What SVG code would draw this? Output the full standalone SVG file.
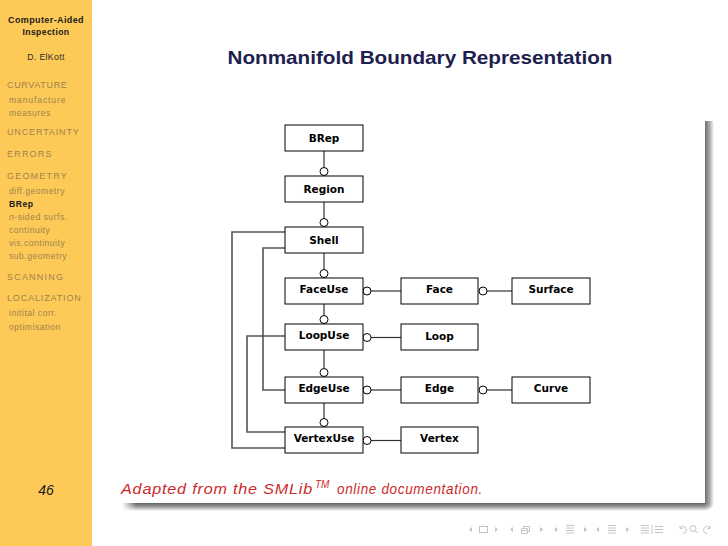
<svg xmlns="http://www.w3.org/2000/svg" width="728" height="546" viewBox="0 0 728 546">
<defs>
<linearGradient id="shR" x1="0" y1="0" x2="1" y2="0">
<stop offset="0" stop-color="#707070"/><stop offset="0.5" stop-color="#a8a8a8"/><stop offset="1" stop-color="#ffffff"/>
</linearGradient>
<linearGradient id="shB" x1="0" y1="0" x2="0" y2="1">
<stop offset="0" stop-color="#606060"/><stop offset="0.5" stop-color="#a0a0a0"/><stop offset="1" stop-color="#ffffff"/>
</linearGradient>
<linearGradient id="shBL" x1="0" y1="0" x2="1" y2="0">
<stop offset="0" stop-color="#fff" stop-opacity="1"/><stop offset="1" stop-color="#fff" stop-opacity="0"/>
</linearGradient>
<radialGradient id="shC" cx="0" cy="0" r="1">
<stop offset="0" stop-color="#707070"/><stop offset="0.5" stop-color="#a8a8a8"/><stop offset="1" stop-color="#ffffff"/>
</radialGradient>
</defs>
<style>
.side{font-family:"Liberation Sans",Arial,sans-serif;font-size:8.6px;fill:#9e834f;letter-spacing:0.5px}
.cap{letter-spacing:1.2px;font-size:9px}
.hd{font-family:"Liberation Sans",Arial,sans-serif;font-size:8.6px;fill:#1a1a1a;text-anchor:middle;letter-spacing:0.4px}
.node rect{fill:#fff;stroke:#000;stroke-width:1}
.node text{font-family:"DejaVu Sans",Verdana,sans-serif;font-weight:bold;font-size:10.5px;fill:#000;text-anchor:middle}
.conn line,.conn polyline{stroke:#333;stroke-width:1.2;fill:none}
.conn .side-l{stroke:#555;stroke-width:1.6}
.conn circle{fill:#fff;stroke:#000;stroke-width:1}
.nav{fill:none;stroke:#c4c4c4;stroke-width:1}
.navf{fill:#c4c4c4}
.capt{font-family:"Liberation Sans",Arial,sans-serif;font-size:14px;font-style:italic;fill:#cc2a2a;letter-spacing:0.7px}
</style>
<rect x="0" y="0" width="728" height="546" fill="#fff"/>
<rect x="0" y="0" width="92" height="546" fill="#fdca57"/>

<!-- sidebar -->
<g id="sidebar">
<text class="hd" x="46" y="23" font-weight="bold" textLength="76" lengthAdjust="spacingAndGlyphs">Computer-Aided</text>
<text class="hd" x="46" y="35" font-weight="bold">Inspection</text>
<text class="hd" x="46" y="60" style="fill:#2a2a2a">D. ElKott</text>
<text class="side cap" x="7" y="88" textLength="61">CURVATURE</text>
<text class="side" x="9" y="103" textLength="57">manufacture</text>
<text class="side" x="9" y="116">measures</text>
<text class="side cap" x="7" y="135" textLength="73">UNCERTAINTY</text>
<text class="side cap" x="7" y="157">ERRORS</text>
<text class="side cap" x="7" y="179">GEOMETRY</text>
<text class="side" x="9" y="194">diff.geometry</text>
<text class="side" x="9" y="207" font-weight="bold" style="fill:#1a1a1a">BRep</text>
<text class="side" x="9" y="220"><tspan font-style="italic">n</tspan>-sided surfs.</text>
<text class="side" x="9" y="233">continuity</text>
<text class="side" x="9" y="246">vis.continuity</text>
<text class="side" x="9" y="259">sub.geometry</text>
<text class="side cap" x="7" y="280">SCANNING</text>
<text class="side cap" x="7" y="301" textLength="75">LOCALIZATION</text>
<text class="side" x="9" y="316">initital corr.</text>
<text class="side" x="9" y="330">optimisation</text>
<text x="46" y="495" text-anchor="middle" font-family="Liberation Sans,Arial,sans-serif" font-size="14px" font-style="italic" fill="#1a1a1a">46</text>
</g>

<!-- title -->
<text x="420" y="64" text-anchor="middle" font-family="Liberation Sans,Arial,sans-serif" font-size="19px" font-weight="bold" fill="#1e1e50" textLength="385" lengthAdjust="spacingAndGlyphs">Nonmanifold Boundary Representation</text>

<!-- shadow -->
<rect x="705" y="121" width="9" height="382" fill="url(#shR)"/>
<rect x="122" y="503" width="583" height="8" fill="url(#shB)"/>
<rect x="122" y="503" width="14" height="8" fill="url(#shBL)"/>
<path d="M705 503 h9 a9 8 0 0 1 -9 8 z" fill="url(#shC)"/>

<!-- connectors -->
<g id="connectors" class="conn">
<line x1="324" y1="151" x2="324" y2="167.5"/><circle cx="324" cy="171.5" r="4"/>
<line x1="324" y1="202" x2="324" y2="218.5"/><circle cx="324" cy="222.5" r="4"/>
<line x1="324" y1="253" x2="324" y2="269.5"/><circle cx="324" cy="273.5" r="4"/>
<line x1="324" y1="304" x2="324" y2="315.5"/><circle cx="324" cy="319.5" r="4"/>
<line x1="324" y1="350" x2="324" y2="368.5"/><circle cx="324" cy="372.5" r="4"/>
<line x1="324" y1="403" x2="324" y2="418.5"/><circle cx="324" cy="422.5" r="4"/>
<line x1="371" y1="291" x2="401" y2="291"/><circle cx="367" cy="291" r="4"/>
<line x1="371" y1="337.5" x2="401" y2="337.5"/><circle cx="367" cy="337.5" r="4"/>
<line x1="371" y1="390" x2="401" y2="390"/><circle cx="367" cy="390" r="4"/>
<line x1="371" y1="440.5" x2="401" y2="440.5"/><circle cx="367" cy="440.5" r="4"/>
<line x1="487" y1="291" x2="512" y2="291"/><circle cx="483" cy="291" r="4"/>
<line x1="487" y1="390" x2="512" y2="390"/><circle cx="483" cy="390" r="4"/>
<polyline class="side-l" points="285,232 232,232 232,448 285,448"/>
<polyline class="side-l" points="285,248 263,248 263,390 285,390"/>
<polyline class="side-l" points="285,336 247,336 247,432 285,432"/>
</g>

<!-- nodes -->
<g id="brep" class="node"><rect x="285" y="125" width="78" height="26"/><text x="324" y="142">BRep</text></g>
<g id="region" class="node"><rect x="285" y="176" width="78" height="26"/><text x="324" y="193">Region</text></g>
<g id="shell" class="node"><rect x="285" y="227" width="78" height="26"/><text x="324" y="244">Shell</text></g>
<g id="faceuse" class="node"><rect x="285" y="278" width="78" height="26"/><text x="324" y="293">FaceUse</text></g>
<g id="loopuse" class="node"><rect x="285" y="324" width="78" height="26"/><text x="324" y="339">LoopUse</text></g>
<g id="edgeuse" class="node"><rect x="285" y="377" width="78" height="26"/><text x="324" y="392">EdgeUse</text></g>
<g id="vertexuse" class="node"><rect x="285" y="427" width="78" height="26"/><text x="324" y="442">VertexUse</text></g>
<g id="face" class="node"><rect x="401" y="278" width="77" height="26"/><text x="439.5" y="293">Face</text></g>
<g id="loop" class="node"><rect x="401" y="324" width="77" height="26"/><text x="439.5" y="340">Loop</text></g>
<g id="edge" class="node"><rect x="401" y="377" width="77" height="26"/><text x="439.5" y="392">Edge</text></g>
<g id="vertex" class="node"><rect x="401" y="427" width="77" height="26"/><text x="439.5" y="442">Vertex</text></g>
<g id="surface" class="node"><rect x="512" y="278" width="78" height="26"/><text x="551" y="293">Surface</text></g>
<g id="curve" class="node"><rect x="512" y="377" width="78" height="26"/><text x="551" y="392">Curve</text></g>

<!-- caption -->
<text class="capt" x="121" y="494" textLength="192" lengthAdjust="spacingAndGlyphs">Adapted from the SMLib</text>
<text class="capt" x="315" y="488" style="font-size:10px;letter-spacing:0">TM</text>
<text class="capt" x="337" y="494" textLength="146" lengthAdjust="spacingAndGlyphs">online documentation.</text>

<!-- navigation -->
<g id="nav">
<path class="navf" d="M472 527 l-3 2.5 3 2.5z M495 527 l3 2.5 -3 2.5z"/>
<rect class="nav" x="479.5" y="526.5" width="8" height="6"/>
<path class="navf" d="M513 527 l-3 2.5 3 2.5z M540 527 l3 2.5 -3 2.5z"/>
<path class="nav" d="M521.5 528.5 h6 v5 h-6z M523.5 528.5 v-2 h6 v5 h-2 M521.5 530.5 h6"/>
<path class="navf" d="M557 527 l-3 2.5 3 2.5z M584 527 l3 2.5 -3 2.5z"/>
<path class="nav" d="M566 525.5 h8 M566 528 h8 M566 530.5 h8 M566 533 h8"/>
<path class="navf" d="M599 527 l-3 2.5 3 2.5z M626 527 l3 2.5 -3 2.5z"/>
<path class="nav" d="M608 525.5 h8 M608 528 h8 M608 530.5 h8 M608 533 h8"/>
<path class="nav" d="M641 525.5 h8 M641 528 h8 M641 530.5 h8 M641 533 h8 M652 525 v9 M655 526.5 h8 M655 529.5 h8 M655 532.5 h8"/>
<path class="nav" d="M680 528 a3.5 3.5 0 1 1 3 5.5 M680 526 v2.5 h2.5"/>
<circle class="nav" cx="693" cy="528.5" r="3"/><path class="nav" d="M695 530.5 l2.5 2.5"/>
<path class="nav" d="M710 528 a3.5 3.5 0 1 0 -3 5.5 M710 526 v2.5 h-2.5"/>
</g>
</svg>
